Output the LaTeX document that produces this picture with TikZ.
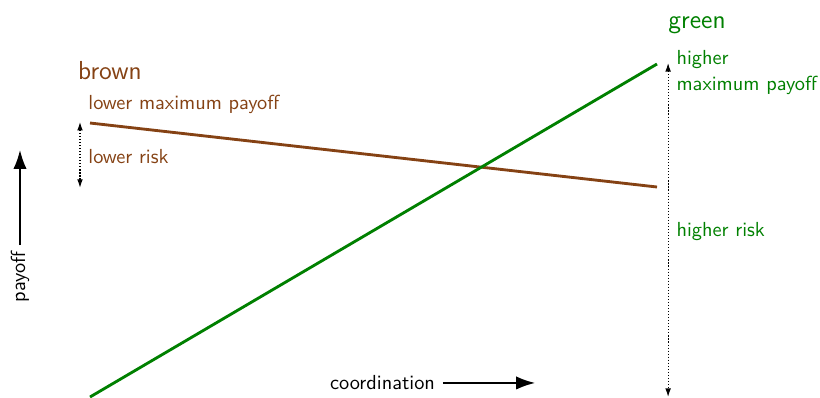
\documentclass[tikz,border=0pt]{standalone}
\usetikzlibrary{positioning, arrows.meta}
\definecolor{brownline}{RGB}{133,66,20}
\definecolor{greenline}{RGB}{0,128,0}

\begin{document}
\begin{tikzpicture}[
    font=\sffamily\fontsize{10.7pt}{13.6pt}\selectfont,
    strategy/.style={line width=1.5pt},
    lbl/.style={anchor=west, inner sep=0pt},
    title/.style={lbl, font=\sffamily\fontsize{13.7pt}{16pt}\selectfont},
    spread/.style={densely dotted, line width=0.6pt, {Latex[length=4.5pt,width=3pt]}-{Latex[length=4.5pt,width=3pt]}},
    axis/.style={line width=0.9pt, -{Latex[length=10pt,width=7pt]}}
        ]

    \path [use as bounding box] (0,0) rectangle (15.17,7.345);

    % strategy lines
    \coordinate (B0) at (1.665, 5.069);
    \coordinate (B1) at (12.155, 3.885);
    \coordinate (G0) at (1.665, 0);
    \coordinate (G1) at (12.155, 6.161);

    \draw [strategy, brownline] (B0) -- (B1);
    \draw [strategy, greenline] (G0) -- (G1);

    % brown
    \node [title, brownline] (brown) at (1.44, 6.03) {brown};
    \node [lbl, brownline] (brownmax) at (1.63, 5.42) {lower maximum payoff};
    \node [lbl, brownline] (brownrisk) at (1.63, 4.44) {lower risk};
    \coordinate (br0) at (1.48, 5.09);
    \coordinate (br1) at (1.48, 3.87);
    \draw [spread] (br0) -- (br1);

    % green
    \node [title, greenline] (green) at (12.36, 6.87) {green};
    \node [lbl, greenline, align=left] (greenmax) at (12.51, 6.01) {higher\\maximum payoff};
    \node [lbl, greenline] (greenrisk) at (12.51, 3.07) {higher risk};
    \coordinate (gr0) at (12.36, 6.18);
    \coordinate (gr1) at (12.36, 0);
    \draw [spread] (gr0) -- (gr1);

    % axes
    \coordinate (py0) at (0.37, 2.81);
    \coordinate (py1) at (0.37, 4.57);
    \draw [axis] (py0) -- (py1);
    \node [rotate=90, inner sep=0pt] (payoff) at (0.37, 2.22) {payoff};

    \node [lbl] (coord) at (6.1, 0.26) {coordination};
    \coordinate (cd1) at (9.9, 0.26);
    \draw [axis] ([xshift=4pt]coord.east) -- (cd1);

\end{tikzpicture}
\end{document}
